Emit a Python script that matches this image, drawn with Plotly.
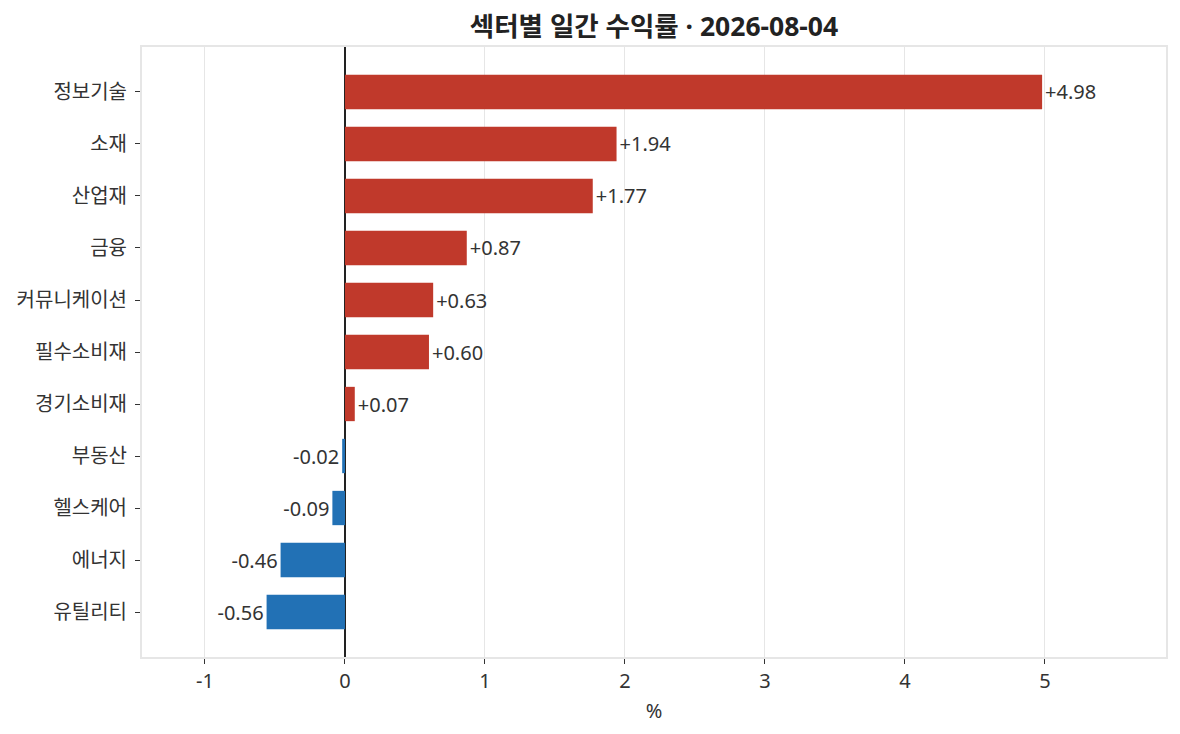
import plotly.graph_objects as go

sectors = ["정보기술", "소재", "산업재", "금융", "커뮤니케이션", "필수소비재", "경기소비재", "부동산", "헬스케어", "에너지", "유틸리티"]
returns = [4.98, 1.94, 1.77, 0.87, 0.63, 0.60, 0.07, -0.02, -0.09, -0.46, -0.56]
x_tick_values = [-1, 0, 1, 2, 3, 4, 5]
x_tick_labels = ["-1", "0", "1", "2", "3", "4", "5"]
title_text = "섹터별 일간 수익률 · 2026-08-04"

FONT = "Noto Sans, Noto Sans CJK KR, sans-serif"
colors = ["#c0392b" if v >= 0 else "#2271b5" for v in returns]
labels = [f"{v:+.2f}" for v in returns]

fig = go.Figure(go.Bar(
    x=returns, y=sectors, orientation="h",
    marker=dict(color=colors, line=dict(width=0)),
    width=0.66,
    text=labels, textposition="outside", cliponaxis=False,
    textfont=dict(size=20, color="#333333", family=FONT),
))

fig.update_layout(
    width=1180, height=734,
    margin=dict(l=134, r=22, t=39, b=85),
    paper_bgcolor="white", plot_bgcolor="white",
    font=dict(family=FONT, size=20, color="#333333"),
    title=dict(text=title_text, xref="paper", x=0.5, xanchor="center",
               yref="container", y=1 - 19 / 734, yanchor="middle",
               font=dict(size=26.5, color="#222222", family=FONT, weight="bold")),
    showlegend=False,
)
fig.update_xaxes(
    range=[-1.45, 5.865], automargin=False,
    tickmode="array", tickvals=x_tick_values, ticktext=x_tick_labels,
    showgrid=True, gridcolor="#e6e6e6", gridwidth=1,
    zeroline=True, zerolinecolor="#222222", zerolinewidth=1.5,
    showline=True, linecolor="#e6e6e6", linewidth=2, mirror=True,
    ticks="outside", ticklen=5, tickcolor="#333333",
    tickfont=dict(size=20),
    title=dict(text="%", font=dict(size=20), standoff=11),
    layer="above traces",
)
fig.update_yaxes(
    autorange=False, range=[10.865, -0.865], automargin=False,
    categoryorder="array", categoryarray=sectors,
    showgrid=False, zeroline=False,
    showline=True, linecolor="#e6e6e6", linewidth=2, mirror=True,
    ticks="outside", ticklen=5, tickcolor="#333333",
    tickfont=dict(size=20),
    ticklabelstandoff=4,
)

fig.write_html("out.html")
